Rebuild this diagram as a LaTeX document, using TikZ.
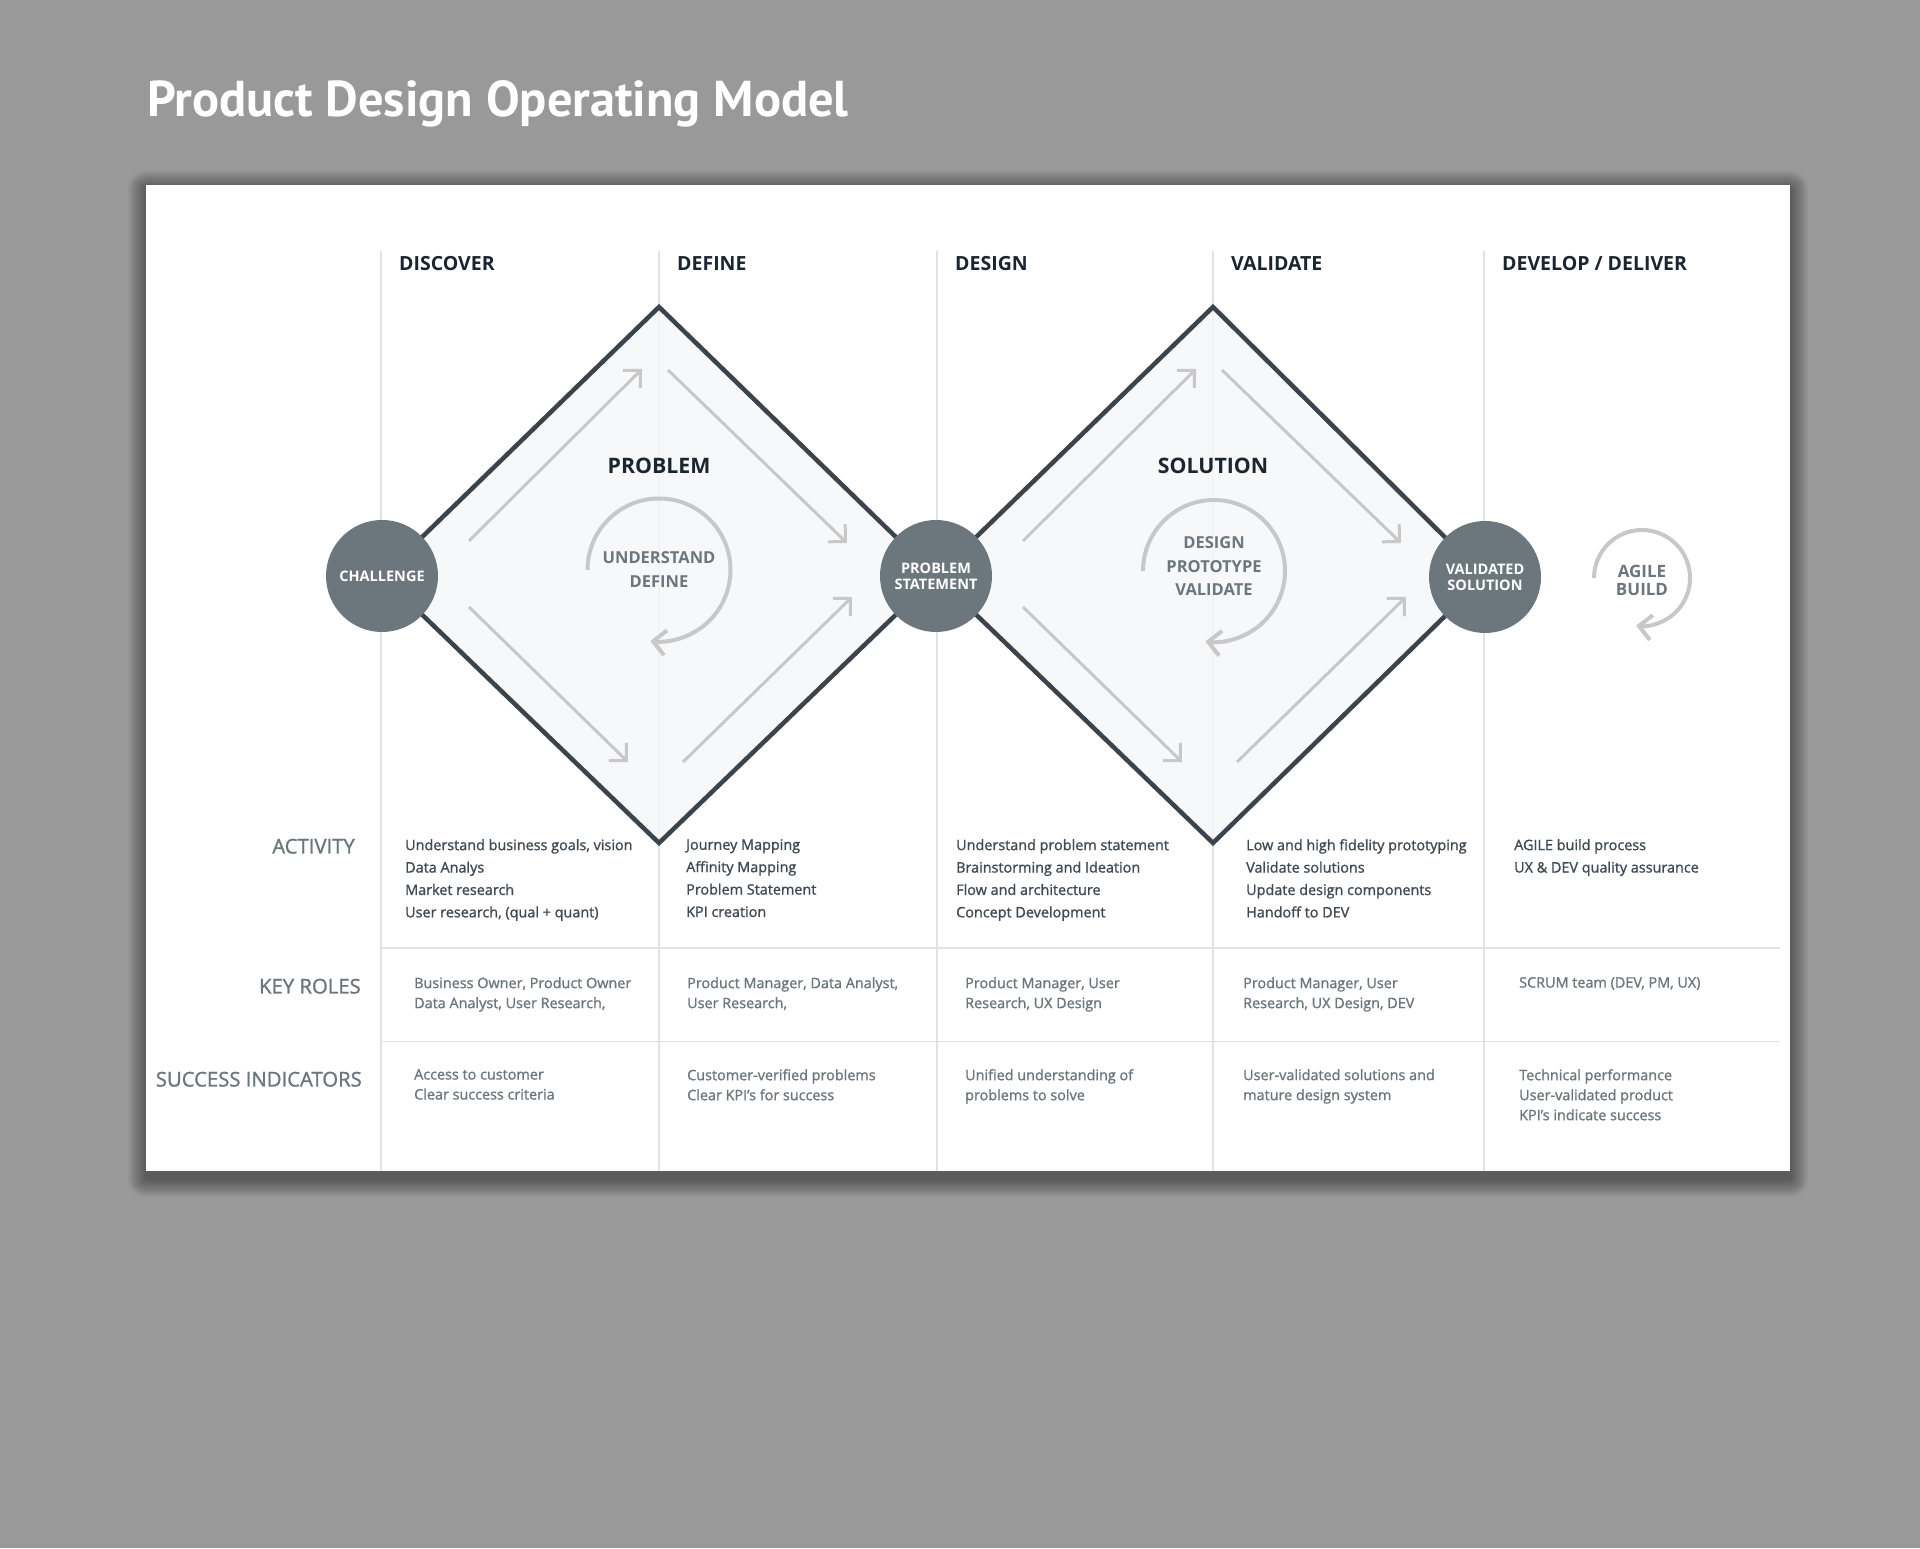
\documentclass[tikz,border=0pt]{standalone}
\usepackage{fontspec}
\setmainfont{Open Sans}
\newfontfamily\titlefont{PT Sans}
\newfontfamily\medfont[FakeBold=1.2]{Open Sans}
\usetikzlibrary{arrows.meta}

\definecolor{bggray}{HTML}{999999}
\definecolor{linegray}{HTML}{DFE3E6}
\definecolor{phasefill}{HTML}{F6F7F9}
\definecolor{phaseline}{HTML}{3B444C}
\definecolor{slate}{HTML}{6C767D}
\definecolor{flowgray}{HTML}{C8C8C8}
\definecolor{headtext}{HTML}{1B2530}
\definecolor{acttext}{HTML}{3F4A54}

\begin{document}
\begin{tikzpicture}[x=1pt, y=1pt,
  header/.style={font=\bfseries\fontsize{19.5}{22}\selectfont, text=headtext, anchor=base west, inner sep=0pt},
  phase/.style={font=\bfseries\fontsize{21.3}{24}\selectfont, text=headtext, inner sep=0pt},
  rowlab/.style={font=\medfont\fontsize{20.3}{23}\selectfont, text=slate, anchor=base east, inner sep=0pt},
  act/.style={font=\medfont\fontsize{14.4}{22.4}\selectfont, text=acttext, anchor=north west, align=left, inner sep=0pt},
  role/.style={font=\medfont\fontsize{14.4}{20}\selectfont, text=slate, anchor=north west, align=left, inner sep=0pt},
  milestone/.style={circle, fill=slate, minimum size=112pt, inner sep=0pt, text=white, align=center,
    font=\bfseries\fontsize{14.5}{16}\selectfont},
  phasebox/.style={fill=phasefill, fill opacity=0.8, draw=phaseline, draw opacity=1, line width=4.5pt},
  flow/.style={draw=flowgray, line width=3pt, -{Straight Barb[length=12.5pt, width=25pt]}},
  loopflow/.style={draw=flowgray, line width=4pt, -{Straight Barb[length=12.5pt, width=25pt]}},
  looplab/.style={font=\bfseries\fontsize{16.5}{24}\selectfont, text=slate, align=center, inner sep=0pt},
  colline/.style={draw=linegray, line width=1.5pt},
  titletext/.style={anchor=base west, inner sep=0pt, font=\titlefont\bfseries\fontsize{50.4}{54}\selectfont}]

  % fond et carte
  \fill[bggray] (0,0) rectangle (1920,1548);
  \useasboundingbox (0,0) rectangle (1920,1548);
  \node[titletext, text=white] (title) at (147,1431) {Product Design Operating Model};
  \foreach \k in {1,...,18}
    \fill[black, opacity=0.022, rounded corners={\k pt}] ({146-\k},{369-\k}) rectangle ({1790+\k},{1359+\k});
  \fill[white] (146,377) rectangle (1790,1363);

  % colonnes et lignes
  \foreach \x/\lab [count=\i] in {381/DISCOVER, 659/DEFINE, 937/DESIGN, 1213/VALIDATE, 1484/{DEVELOP / DELIVER}} {
    \draw[colline] (\x,1297) -- (\x,377);
    \node[header] (head-\i) at ({\x+18},1277) {\lab};
  }
  \draw[colline] (381,600) -- (1780,600);
  \draw[colline] (381,506.5) -- (1780,506.5);

  % losanges
  \coordinate (d1-left) at (382,972);
  \coordinate (d1-right) at (936,972);
  \coordinate (d2-right) at (1485,971);
  \draw[phasebox] (d1-left) -- (659,1241) -- (d1-right) -- (659,705) -- cycle;
  \draw[phasebox] (d1-right) -- (1213,1241) -- (d2-right) -- (1213,705) -- cycle;

  % fleches
  \foreach \dx in {0,554} {
    \draw[flow] ({469+\dx},1007) -- ({642+\dx},1179);
    \draw[flow] ({668+\dx},1178) -- ({847+\dx},1005);
    \draw[flow] ({469+\dx},941) -- ({628+\dx},786);
    \draw[flow] ({683+\dx},786) -- ({852+\dx},951);
  }
  \draw[loopflow] (587.5,978) arc[start angle=180, end angle=-97, radius=71.5];
  \draw[loopflow] (1143,977) arc[start angle=180, end angle=-97, radius=71];
  \draw[loopflow] (1594,970) arc[start angle=180, end angle=-97, radius=48];

  \node[phase] (problem) at (659,1082) {PROBLEM};
  \node[phase] (solution) at (1213,1082) {SOLUTION};
  \node[looplab] (loop-1) at (659,978) {UNDERSTAND\\DEFINE};
  \node[looplab, font=\bfseries\fontsize{16.5}{23.5}\selectfont] (loop-2) at (1214,981.5) {DESIGN\\PROTOTYPE\\VALIDATE};
  \node[looplab, font=\bfseries\fontsize{17}{17.5}\selectfont] (loop-3) at (1642,967.5) {AGILE\\BUILD};

  \node[milestone] (challenge) at (d1-left) {CHALLENGE};
  \node[milestone] (statement) at (d1-right) {PROBLEM\\STATEMENT};
  \node[milestone] (validated) at (d2-right) {VALIDATED\\SOLUTION};

  % tableau
  \node[rowlab] (row-act) at (355,694.5) {ACTIVITY};
  \node[rowlab] (row-roles) at (361,554.5) {KEY ROLES};
  \node[rowlab] (row-success) at (362,461.5) {SUCCESS INDICATORS};

  \node[act] (act-1) at (405,709) {Understand business goals, vision\\Data Analys\\Market research\\User research, (qual + quant)};
  \node[act] (act-2) at (686,709) {Journey Mapping\\Affinity Mapping\\Problem Statement\\KPI creation};
  \node[act] (act-3) at (956,709) {Understand problem statement\\Brainstorming and Ideation\\Flow and architecture\\Concept Development};
  \node[act] (act-4) at (1246,709) {Low and high fidelity prototyping\\Validate solutions\\Update design components\\Handoff to DEV};
  \node[act] (act-5) at (1514,709) {AGILE build process\\UX \& DEV quality assurance};

  \node[role] (roles-1) at (414,571) {Business Owner, Product Owner\\Data Analyst, User Research,};
  \node[role] (roles-2) at (687,571) {Product Manager, Data Analyst,\\User Research,};
  \node[role] (roles-3) at (965,571) {Product Manager, User\\Research, UX Design};
  \node[role] (roles-4) at (1243,571) {Product Manager, User\\Research, UX Design, DEV};
  \node[role] (roles-5) at (1519,571) {SCRUM team (DEV, PM, UX)};

  \node[role] (success-1) at (414,479) {Access to customer\\Clear success criteria};
  \node[role] (success-2) at (687,479) {Customer-verified problems\\Clear KPI’s for success};
  \node[role] (success-3) at (965,479) {Unified understanding of\\problems to solve};
  \node[role] (success-4) at (1243,479) {User-validated solutions and\\mature design system};
  \node[role] (success-5) at (1519,479) {Technical performance\\User-validated product\\KPI’s indicate success};
\end{tikzpicture}
\end{document}
